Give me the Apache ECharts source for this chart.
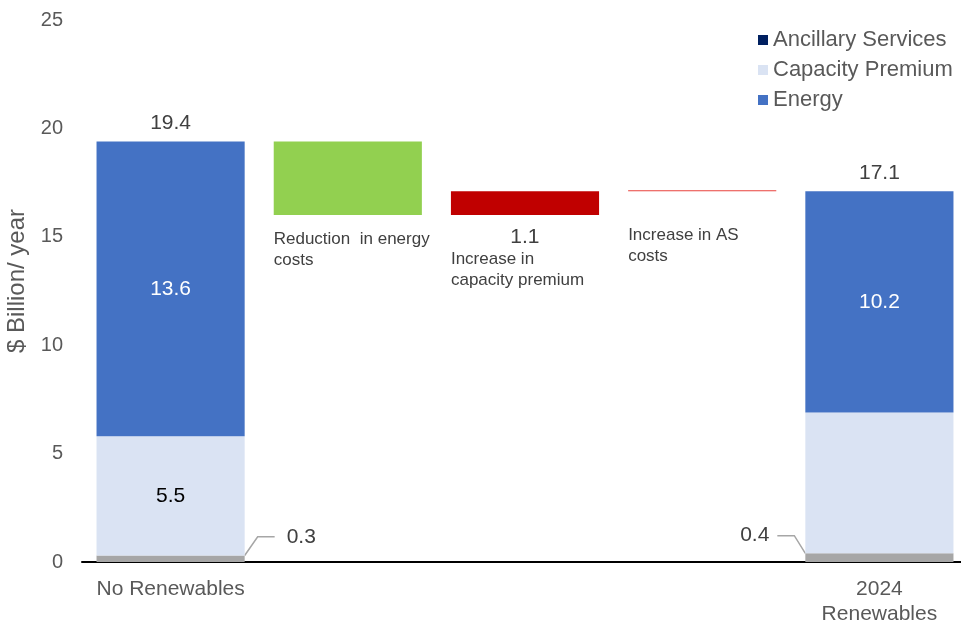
<!DOCTYPE html>
<html>
<head>
<meta charset="utf-8">
<script src="https://cdn.jsdelivr.net/npm/echarts@6/dist/echarts.min.js"></script>
<style>
  html, body { margin: 0; padding: 0; background: #ffffff; }
  #chart { width: 961px; height: 626px; }
</style>
</head>
<body>
<div id="chart"></div>
<script>
// Cost bridge: no renewables vs. 2024 renewables ($ billion / year)
const categories = ['No Renewables', 'Reduction  in energy costs', 'Increase in capacity premium', 'Increase in AS costs', '2024 Renewables'];
const xTickLabels = ['No Renewables', '', '', '', '2024\nRenewables'];
const legendNames = ['Ancillary Services', 'Capacity Premium', 'Energy'];

// end-point stacks (index 0 and 4), '-' where a category has no stack
const ancillary = [0.3, '-', '-', '-', 0.4];
const capacity  = [5.5, '-', '-', '-', 6.5];
const energy    = [13.6, '-', '-', '-', 10.2];

// bridge steps between the two totals
const changes = ['-', -3.4, 1.1, 0.05, '-'];
const changeTexts = ['', 'Reduction  in energy\ncosts', 'Increase in\ncapacity premium', 'Increase in AS\ncosts', ''];
const changeColors = ['', '#92d050', '#c00000', '#e8423c', ''];

const yMin = 0, yMax = 25, yStep = 5;

const FONT = '"Liberation Sans", Arial, sans-serif';

function num(v) { return typeof v === 'number' ? v : 0; }
const totals = categories.map((_, i) => num(ancillary[i]) + num(capacity[i]) + num(energy[i]));

// floating base + visible step for the bridge
const bridgeBase = [];
const bridgeStep = [];
let running = totals[0];
categories.forEach((_, i) => {
  if (typeof changes[i] !== 'number') { bridgeBase.push('-'); bridgeStep.push('-'); return; }
  const c = changes[i];
  if (c < 0) { bridgeBase.push(running + c); bridgeStep.push(-c); }
  else { bridgeBase.push(running); bridgeStep.push(c); }
  running += c;
});

const chart = echarts.init(document.getElementById('chart'), null, { renderer: 'canvas' });

const stepData = bridgeStep.map((v, i) => {
  if (v === '-') return '-';
  const item = { value: v, itemStyle: { color: changeColors[i] } };
  const textStyle = { fontFamily: FONT, fontSize: 17, color: '#404040', lineHeight: 21 };
  if (i === 2) {
    item.label = {
      show: true, position: [0, '100%'], offset: [0, 10], align: 'left', verticalAlign: 'top',
      formatter: '{v|' + v.toFixed(1) + '}\n' + changeTexts[i].split('\n').map(s => '{t|' + s + '}').join('\n'),
      rich: {
        v: { width: 148, align: 'center', fontFamily: FONT, fontSize: 21, color: '#404040', lineHeight: 24 },
        t: textStyle
      }
    };
  } else {
    item.label = Object.assign({
      show: true, position: [0, '100%'], offset: [0, i === 3 ? 34 : 14], align: 'left', verticalAlign: 'top',
      formatter: changeTexts[i]
    }, textStyle);
  }
  return item;
});

const option = {
  animation: false,
  backgroundColor: '#ffffff',
  textStyle: { fontFamily: FONT },
  grid: { left: 82, right: -7, top: 20, bottom: 64, containLabel: false, outerBoundsMode: 'none' },
  legend: {
    data: legendNames,
    orient: 'vertical',
    left: 753, top: 24,
    itemWidth: 10, itemHeight: 10, itemGap: 8,
    icon: 'rect',
    textStyle: { fontFamily: FONT, fontSize: 22, color: '#595959' }
  },
  xAxis: {
    type: 'category',
    data: categories,
    axisLine: { lineStyle: { color: '#000000', width: 2 } },
    axisTick: { show: false },
    axisLabel: {
      interval: 0, margin: 15,
      fontFamily: FONT, fontSize: 21, color: '#595959', lineHeight: 25,
      formatter: (v, i) => xTickLabels[i]
    },
    splitLine: { show: false }
  },
  yAxis: {
    type: 'value',
    min: yMin, max: yMax, interval: yStep,
    name: '$ Billion/ year',
    nameLocation: 'middle', nameGap: 44,
    nameTextStyle: { fontFamily: FONT, fontSize: 24, color: '#595959', padding: [0, 0, 0, 20] },
    axisLine: { show: false },
    axisTick: { show: false },
    splitLine: { show: false },
    axisLabel: { margin: 19, fontFamily: FONT, fontSize: 20, color: '#595959' }
  },
  series: [
    {
      name: 'base', type: 'bar', stack: 'cost', barCategoryGap: '16.4%',
      data: bridgeBase,
      itemStyle: { color: 'rgba(0,0,0,0)' },
      emphasis: { disabled: true },
      silent: true
    },
    {
      name: 'Ancillary Services', type: 'bar', stack: 'cost',
      itemStyle: { color: '#002060' },
      data: ancillary.map((v, i) => v === '-' ? '-' : {
        value: v,
        itemStyle: { color: '#a6a6a6' },
        label: {
          show: true, position: i === 0 ? 'right' : 'left', distance: 5,
          backgroundColor: 'rgba(255,255,255,0)',
          padding: i === 0 ? [0, 0, 0, 12] : [0, 8, 0, 0]
        }
      }),
      label: { fontFamily: FONT, fontSize: 21, color: '#404040', formatter: p => p.value.toFixed(1) },
      labelLayout: p => ({ dx: p.dataIndex === 0 ? 25 : -23, dy: -22 }),
      labelLine: { show: true, length2: 17, minTurnAngle: 0, lineStyle: { color: '#a6a6a6', width: 1.5 } }
    },
    {
      name: 'Capacity Premium', type: 'bar', stack: 'cost',
      itemStyle: { color: '#dae3f3' },
      data: capacity.map((v, i) => v === '-' ? '-' : {
        value: v,
        label: { show: i === 0 }
      }),
      label: { position: 'inside', fontFamily: FONT, fontSize: 21, color: '#000000', formatter: p => p.value.toFixed(1) }
    },
    {
      name: 'Energy', type: 'bar', stack: 'cost',
      itemStyle: { color: '#4472c4' },
      data: energy,
      label: { show: true, position: 'inside', fontFamily: FONT, fontSize: 21, color: '#ffffff', formatter: p => p.value.toFixed(1) }
    },
    {
      name: 'step', type: 'bar', stack: 'cost',
      data: stepData
    },
    {
      name: 'total', type: 'bar', stack: 'cost',
      data: totals.map((t, i) => (i === 0 || i === categories.length - 1) ? 0 : '-'),
      itemStyle: { color: 'rgba(0,0,0,0)' },
      label: {
        show: true, position: 'top', distance: 8,
        fontFamily: FONT, fontSize: 21, color: '#404040',
        formatter: p => totals[p.dataIndex].toFixed(1)
      },
      silent: true
    }
  ]
};

chart.setOption(option);
</script>
</body>
</html>
